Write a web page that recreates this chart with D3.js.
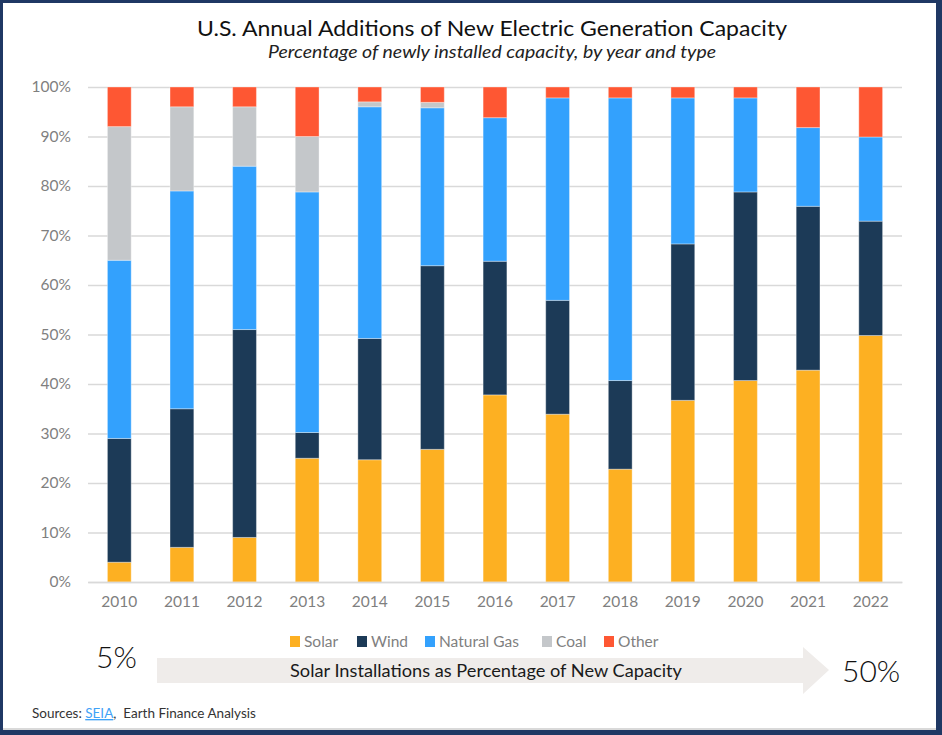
<!DOCTYPE html>
<html>
<head>
<meta charset="utf-8">
<script src="https://cdn.jsdelivr.net/npm/d3@7"></script>
<style>
  html, body { margin: 0; padding: 0; background: #fff; }
  svg { display: block; font-family: Lato, "Open Sans", sans-serif; }
</style>
</head>
<body>
<svg id="chart" width="942" height="735"></svg>
<script>
// ---- Data ----
const years = ["2010","2011","2012","2013","2014","2015","2016","2017","2018","2019","2020","2021","2022"];
const seriesNames = ["Solar","Wind","Natural Gas","Coal","Other"];
const solar      = [4, 7, 9, 25, 24.7, 26.8, 37.8, 33.9, 22.8, 36.7, 40.7, 42.8, 49.8];
const wind       = [25, 28, 42, 5.2, 24.5, 37.1, 27, 23, 17.9, 31.6, 38.1, 33.1, 23.1];
const naturalGas = [36, 44, 33, 48.6, 46.8, 31.9, 29, 40.9, 57.1, 29.5, 19, 15.9, 17];
const coal       = [27, 17, 12, 11.2, 1, 1.1, 0, 0, 0, 0, 0, 0, 0];
const other      = [8, 4, 4, 10, 3, 3.1, 6.2, 2.2, 2.2, 2.2, 2.2, 8.2, 10.1];
const yTicks = [0, 10, 20, 30, 40, 50, 60, 70, 80, 90, 100];
const colors = ["#FDB022", "#1C3A57", "#33A1FD", "#C4C7CA", "#FE5733"];

const rows = years.map((y, i) => ({
  year: y,
  "Solar": solar[i], "Wind": wind[i], "Natural Gas": naturalGas[i], "Coal": coal[i], "Other": other[i]
}));

const svg = d3.select("#chart");
const W = 942, H = 735;

// frame
svg.append("rect").attr("x", 0).attr("y", 0).attr("width", W).attr("height", H).attr("fill", "#1F3864");
svg.append("rect").attr("x", 3).attr("y", 3).attr("width", 933).attr("height", 727).attr("fill", "#ffffff");
svg.append("rect").attr("x", 3).attr("y", 728).attr("width", 933).attr("height", 2).attr("fill", "#D9D9D9");

// titles
svg.append("text").attr("x", 492).attr("y", 36).attr("text-anchor", "middle")
  .attr("font-size", 21.5).attr("fill", "#111")
  .attr("textLength", 590).attr("lengthAdjust", "spacingAndGlyphs")
  .text("U.S. Annual Additions of New Electric Generation Capacity");
svg.append("text").attr("x", 492).attr("y", 58).attr("text-anchor", "middle")
  .attr("font-size", 17).attr("font-style", "italic").attr("fill", "#222")
  .attr("textLength", 448).attr("lengthAdjust", "spacingAndGlyphs")
  .text("Percentage of newly installed capacity, by year and type");

// scales
const x = d3.scaleBand().domain(years).range([88, 902]).paddingInner(0.62).paddingOuter(0.31);
const y = d3.scaleLinear().domain([0, 100]).range([582, 87]);

// grid
const gGrid = svg.append("g").attr("transform", "translate(88,0)")
  .call(d3.axisLeft(y).tickValues(yTicks).tickSize(-814).tickFormat(d => d + "%"));
gGrid.select(".domain").remove();
gGrid.selectAll(".tick line").attr("stroke", "#D9D9D9").attr("stroke-width", 1.5);
gGrid.selectAll(".tick text").attr("x", -17).attr("font-size", 15.5).attr("fill", "#7F7F7F")
  .attr("font-family", "Lato, sans-serif");

// bars
const stack = d3.stack().keys(seriesNames);
const stacked = stack(rows);
svg.append("g").selectAll("g").data(stacked).join("g")
  .attr("fill", (d, i) => colors[i])
  .selectAll("rect").data(d => d.filter(s => s[1] - s[0] > 0)).join("rect")
  .attr("x", d => x(d.data.year))
  .attr("width", x.bandwidth())
  .attr("y", d => y(d[1]))
  .attr("height", d => y(d[0]) - y(d[1]))
  .attr("stroke", "rgba(255,255,255,0.35)")
  .attr("stroke-width", 1);

// x axis
const gx = svg.append("g").attr("transform", "translate(0,582)")
  .call(d3.axisBottom(x).tickSize(0).tickPadding(14));
gx.select(".domain").attr("stroke", "#D9D9D9").attr("stroke-width", 1.5);
gx.selectAll(".tick text").attr("font-size", 15.5).attr("fill", "#7F7F7F").attr("font-family", "Lato, sans-serif");

// legend
const legendX = [290, 357, 425, 542, 604];
const lg = svg.append("g").selectAll("g").data(seriesNames).join("g")
  .attr("transform", (d, i) => `translate(${legendX[i]},0)`);
lg.append("rect").attr("x", 0).attr("y", 636).attr("width", 10).attr("height", 11).attr("fill", (d, i) => colors[i]);
lg.append("text").attr("x", 14).attr("y", 647).attr("font-size", 15.5).attr("fill", "#7F7F7F").text(d => d);

// arrow
const arrowPts = [[157,658],[803,658],[803,647],[829,670],[803,694],[803,683],[157,683]];
svg.append("polygon").attr("points", arrowPts.map(p => p.join(",")).join(" ")).attr("fill", "#EFECEA");
svg.append("text").attr("x", 486).attr("y", 677).attr("text-anchor", "middle")
  .attr("font-size", 17.5).attr("fill", "#1a1a1a")
  .attr("textLength", 392).attr("lengthAdjust", "spacingAndGlyphs")
  .text("Solar Installations as Percentage of New Capacity");

svg.append("text").attr("x", 96).attr("y", 668).attr("font-size", 30).attr("font-weight", 300)
  .attr("fill", "#111").text("5%");
svg.append("text").attr("x", 842).attr("y", 682).attr("font-size", 30).attr("font-weight", 300)
  .attr("fill", "#111").text("50%");

// sources
const src = svg.append("text").attr("x", 32).attr("y", 718).attr("font-size", 13.5).attr("fill", "#333");
src.append("tspan").text("Sources:\u00A0");
src.append("tspan").attr("fill", "#3FA2F7").attr("text-decoration", "underline").text("SEIA");
src.append("tspan").text(",\u00A0\u00A0Earth Finance Analysis");
</script>
</body>
</html>
